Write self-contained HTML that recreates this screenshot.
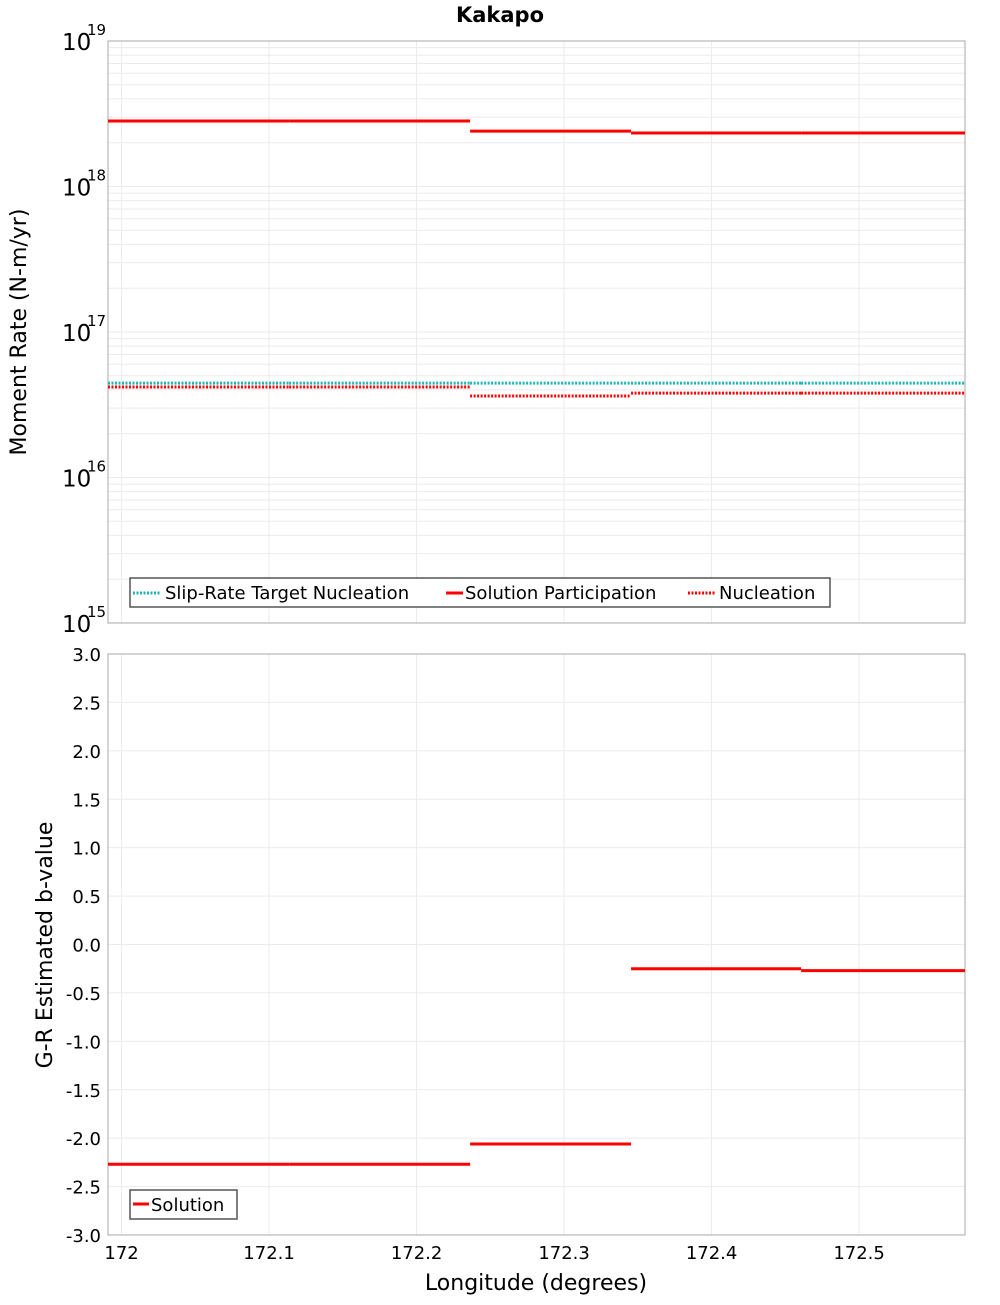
<!DOCTYPE html>
<html><head><meta charset="utf-8"><style>
body{margin:0;background:#fff;font-family:"Liberation Sans","DejaVu Sans",sans-serif}
svg text{font-family:"DejaVu Sans","Liberation Sans",sans-serif}
</style></head><body>
<svg id="c" width="1000" height="1300" xmlns="http://www.w3.org/2000/svg"></svg>
<script>
const edges=[171.9908,172.1136,172.2363,172.3454,172.4607,172.5718];
const partic=[2.82e18,2.82e18,2.4e18,2.33e18,2.33e18];
const target=[4.45e16,4.45e16,4.45e16,4.45e16,4.45e16];
const nucl=[4.19e16,4.19e16,3.63e16,3.8e16,3.8e16];
const bval=[-2.27,-2.27,-2.06,-0.25,-0.27];
const xTicks=[172,172.1,172.2,172.3,172.4,172.5];
const yTicksB=[3,2.5,2,1.5,1,0.5,0,-0.5,-1,-1.5,-2,-2.5,-3];
const decades=[19,18,17,16,15];
const NS='http://www.w3.org/2000/svg',svg=document.getElementById('c');
const L=108,R=965,T1=41,B1=623,T2=654,B2=1235,xmin=171.9908,xmax=172.5718;
const X=v=>L+(v-xmin)/(xmax-xmin)*(R-L);
const Y1=v=>T1+(19-Math.log10(v))/4*(B1-T1);
const Y2=v=>T2+(3-v)/6*(B2-T2);
function el(t,a,p){const e=document.createElementNS(NS,t);for(const k in a)e.setAttribute(k,a[k]);(p||svg).appendChild(e);return e;}
function txt(s,a,p){const e=el('text',a,p);e.textContent=s;return e;}
// title
const ti=txt('Kakapo',{x:500,y:22,'text-anchor':'middle','font-size':21,'font-weight':'bold'});


// plot backgrounds / grids
const g1=el('g',{});


const g2=el('g',{});


for(const d of decades.slice(0,4)){for(let m=1;m<10;m++){const y=Y1(m*Math.pow(10,d-1));el('line',{x1:L,x2:R,y1:y,y2:y,stroke:'#ebebeb','stroke-width':1},g1);}}
for(const t of xTicks){el('line',{x1:X(t),x2:X(t),y1:T1,y2:B1,stroke:'#ebebeb'},g1);el('line',{x1:X(t),x2:X(t),y1:T2,y2:B2,stroke:'#ebebeb'},g2);}
for(const t of yTicksB){el('line',{x1:L,x2:R,y1:Y2(t),y2:Y2(t),stroke:'#ebebeb'},g2);}
el('rect',{x:L,y:T1,width:R-L,height:B1-T1,fill:'none',stroke:'#aaa'},g1);
el('rect',{x:L,y:T2,width:R-L,height:B2-T2,fill:'none',stroke:'#aaa'},g2);
// top y labels
for(const d of decades){const y=Y1(Math.pow(10,d));
 const t=txt('10',{x:62,y:y+9,'font-size':23},g1);
 txt(String(d),{x:87,y:y-6,'font-size':15},g1);}
const yt=txt('Moment Rate (N-m/yr)',{x:26,y:332,'font-size':22,'text-anchor':'middle',transform:'rotate(-90 26 332)'});

for(const t of yTicksB){const e=txt(t.toFixed(1),{x:101,y:Y2(t)+7,'font-size':18,'text-anchor':'end'},g2);}
const yb=txt('G-R Estimated b-value',{x:52,y:945,'font-size':22,'text-anchor':'middle',transform:'rotate(-90 52 945)'});

for(const t of xTicks){const e=txt(String(t),{x:X(t),y:1259,'font-size':18,'text-anchor':'middle'});}
const xt=txt('Longitude (degrees)',{x:536,y:1290,'font-size':22,'text-anchor':'middle'});

// series
function series(vals,Yf,stroke,dash,name,p){const g=el('g',{},p);
 vals.forEach((v,i)=>{const a={x1:X(edges[i]),x2:X(edges[i+1]),y1:Yf(v),y2:Yf(v),stroke:stroke,'stroke-width':3};if(dash)a['stroke-dasharray']='2,1.5';el('line',a,g);});}
series(target,Y1,'#1db5b5',true,'slip-rate-target-series',g1);
series(nucl,Y1,'#ff0000',true,'nucleation-series',g1);
series(partic,Y1,'#ff0000',false,'solution-participation-series',g1);
series(bval,Y2,'#ff0000',false,'b-value-series',g2);
// legends
const lg=el('g',{},g1);
el('rect',{x:130,y:578,width:700,height:29,fill:'#fff',stroke:'#555','stroke-width':1.5},lg);
el('line',{x1:133,x2:161,y1:593,y2:593,stroke:'#1db5b5','stroke-width':3,'stroke-dasharray':'2,1.5'},lg);
txt('Slip-Rate Target Nucleation',{x:165,y:599,'font-size':18},lg);
el('line',{x1:446,x2:463,y1:593,y2:593,stroke:'#f00','stroke-width':3},lg);
txt('Solution Participation',{x:465,y:599,'font-size':18},lg);
el('line',{x1:688,x2:716,y1:593,y2:593,stroke:'#f00','stroke-width':3,'stroke-dasharray':'2,1.5'},lg);
txt('Nucleation',{x:719,y:599,'font-size':18},lg);
const lb=el('g',{},g2);
el('rect',{x:130,y:1190,width:107,height:29,fill:'#fff',stroke:'#555','stroke-width':1.5},lb);
el('line',{x1:133,x2:149,y1:1204,y2:1204,stroke:'#f00','stroke-width':3},lb);
txt('Solution',{x:151,y:1211,'font-size':18},lb);
</script>
</body></html>
